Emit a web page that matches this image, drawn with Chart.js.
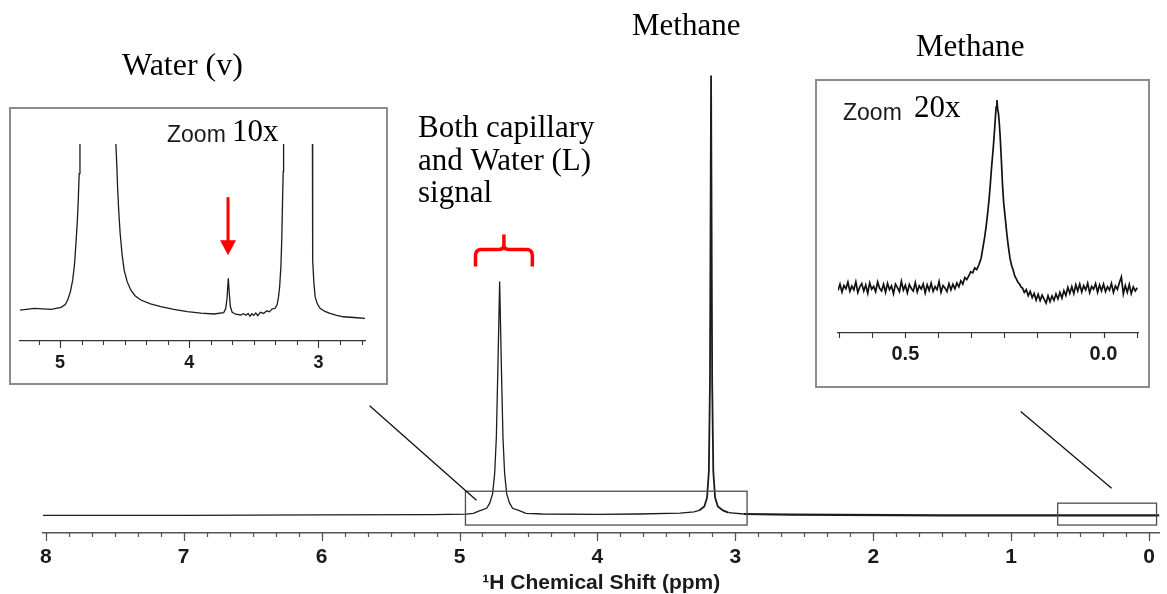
<!DOCTYPE html>
<html>
<head>
<meta charset="utf-8">
<title>1H NMR spectrum</title>
<script src="https://cdn.jsdelivr.net/npm/chart.js@4.4.1/dist/chart.umd.min.js"></script>
<style>
  html, body { margin: 0; padding: 0; background: #fff; }
  #wrap { position: relative; width: 1167px; height: 594px; overflow: hidden; }
  #mainChart { position: absolute; left: 0; top: 0; }
  .inset { position: absolute; border: 2px solid #8c8c8c; background: #fff; box-sizing: border-box; }
  .inset canvas { position: absolute; left: 0; top: 0; }
</style>
</head>
<body>
<div id="wrap">
  <canvas id="mainChart" width="1167" height="594"></canvas>
  <div class="inset" style="left:9px; top:107px; width:379px; height:278px;">
    <canvas id="zoom10Chart" width="375" height="274"></canvas>
  </div>
  <div class="inset" style="left:815px; top:79px; width:335px; height:309px;">
    <canvas id="zoom20Chart" width="331" height="305"></canvas>
  </div>
</div>
<script>
// ---- data: [ppm, intensity] ----
// full spectrum (methane peak = 100)
const mainTrace = [
  [8.02, 0], [7.0, 0], [6.0, 0.1], [5.2, 0.15], [4.95, 0.25], [4.90, 0.45], [4.856, 1.0],
  [4.803, 1.6], [4.78, 2.8], [4.760, 4.9], [4.745, 9.5], [4.733, 17.6], [4.722, 33],
  [4.709, 52.9], [4.696, 33], [4.685, 17.6], [4.673, 9.5], [4.658, 4.9], [4.638, 2.8],
  [4.615, 1.6], [4.562, 1.0], [4.518, 0.45], [4.40, 0.3], [4.0, 0.2], [3.7, 0.3],
  [3.40, 0.5], [3.30, 0.8], [3.262, 1.1], [3.225, 2.0], [3.205, 4], [3.192, 10],
  [3.184, 30], [3.176, 99.5], [3.168, 30], [3.160, 10], [3.147, 4], [3.127, 2.0],
  [3.09, 1.1], [3.05, 0.6], [2.94, 0.3], [2.6, 0.15], [1.5, 0], [0.5, 0], [-0.075, 0]
];

// 10x vertical zoom, 5.3 - 2.6 ppm (clipped at 100)
const zoom10Trace = [
  [5.31, 15.7], [5.198, 16.6], [5.069, 16.1], [4.992, 17.1], [4.96, 18.5], [4.941, 20.8],
  [4.92, 25], [4.902, 31], [4.888, 39], [4.877, 49.7], [4.867, 60], [4.859, 71.6],
  [4.852, 85], [4.846, 100], [4.78, 300], [4.71, 600], [4.64, 300], [4.568, 100],
  [4.560, 88], [4.555, 78.3], [4.545, 65], [4.535, 54.7], [4.52, 44], [4.504, 36],
  [4.48, 30], [4.453, 25.9], [4.42, 23], [4.375, 20.8], [4.30, 18.8], [4.221, 17.4],
  [4.12, 16], [4.015, 14.9], [3.91, 14.1], [3.810, 13.7], [3.733, 14.4], [3.718, 16.5],
  [3.708, 21.5], [3.698, 31.8], [3.690, 24], [3.682, 17.5], [3.668, 14.6], [3.64, 13.6],
  [3.604, 13.2], [3.58, 13.9], [3.56, 13.1], [3.545, 14.0], [3.53, 12.6], [3.515, 13.8],
  [3.502, 13.0], [3.485, 14.2], [3.47, 12.9], [3.45, 14.6], [3.425, 14.0], [3.40, 15.3],
  [3.38, 14.8], [3.36, 16.2], [3.335, 16.6], [3.32, 18.5], [3.309, 22.5], [3.30, 28],
  [3.291, 37.7], [3.284, 52], [3.278, 71.6], [3.273, 86], [3.270, 100], [3.22, 400],
  [3.17, 900], [3.10, 400], [3.047, 100], [3.045, 41], [3.036, 30], [3.026, 22.5],
  [3.01, 19], [2.988, 16.6], [2.95, 15], [2.911, 14], [2.86, 13], [2.808, 12.3],
  [2.70, 11.8], [2.64, 11.5]
];

// 20x vertical zoom, 0.67 - -0.09 ppm (noisy methane-region trace)
const zoom20Trace = [
  [0.670, 18.2], [0.665, 21.0], [0.660, 17.6], [0.655, 20.4], [0.650, 19.0], [0.645, 21.8],
  [0.640, 17.9], [0.635, 20.1], [0.630, 18.5], [0.625, 22.0], [0.620, 17.4], [0.615, 19.8],
  [0.610, 21.2], [0.605, 18.0], [0.600, 20.6], [0.595, 17.1], [0.590, 21.5], [0.585, 18.8],
  [0.580, 20.0], [0.575, 17.7], [0.570, 21.9], [0.565, 19.2], [0.560, 18.1], [0.555, 20.9],
  [0.550, 17.5], [0.545, 21.3], [0.540, 18.6], [0.535, 20.2], [0.530, 16.9], [0.525, 21.0],
  [0.520, 19.5], [0.515, 17.8], [0.510, 22.2], [0.505, 18.4], [0.500, 20.5], [0.495, 17.3],
  [0.490, 20.8], [0.485, 19.1], [0.480, 18.0], [0.475, 21.6], [0.470, 17.6], [0.465, 20.3],
  [0.460, 18.9], [0.455, 21.1], [0.450, 17.2], [0.445, 20.7], [0.440, 18.3], [0.435, 21.4],
  [0.430, 17.9], [0.425, 19.9], [0.420, 18.6], [0.415, 22.1], [0.410, 17.5], [0.405, 20.4],
  [0.400, 19.3], [0.395, 17.8], [0.390, 21.2], [0.385, 18.5], [0.380, 20.9], [0.375, 19.0],
  [0.370, 21.5], [0.365, 19.8], [0.360, 22.4], [0.355, 21.0], [0.350, 23.8], [0.345, 22.9],
  [0.340, 24.5], [0.335, 26.3], [0.330, 25.8], [0.325, 27.9], [0.320, 27.2], [0.314, 29.5],
  [0.309, 32], [0.305, 36], [0.300, 41], [0.296, 46], [0.292, 52], [0.289, 57], [0.286, 63],
  [0.283, 70], [0.280, 76], [0.278, 80], [0.275, 87], [0.273, 92], [0.271, 97], [0.269, 100],
  [0.267, 96], [0.265, 94], [0.263, 90], [0.261, 85], [0.258, 75], [0.255, 64], [0.252, 56],
  [0.249, 51], [0.246, 46], [0.243, 41], [0.240, 37], [0.236, 32], [0.232, 29], [0.228, 27],
  [0.224, 24.5], [0.220, 23.2], [0.216, 21.8], [0.212, 21.0], [0.208, 19.8], [0.204, 19.2],
  [0.200, 17.4], [0.195, 18.6], [0.190, 16.0], [0.185, 17.9], [0.180, 15.2], [0.175, 17.0],
  [0.170, 14.1], [0.165, 16.6], [0.160, 13.9], [0.155, 16.2], [0.150, 14.5], [0.145, 12.8],
  [0.140, 16.0], [0.135, 13.5], [0.130, 15.9], [0.125, 14.0], [0.120, 16.8], [0.115, 14.6],
  [0.110, 17.5], [0.105, 15.0], [0.100, 18.2], [0.095, 16.1], [0.090, 19.6], [0.085, 17.0],
  [0.080, 19.9], [0.075, 16.9], [0.070, 20.7], [0.065, 18.0], [0.060, 21.0], [0.055, 17.6],
  [0.050, 20.3], [0.045, 18.5], [0.040, 21.4], [0.035, 17.3], [0.030, 20.0], [0.025, 18.8],
  [0.020, 21.2], [0.015, 17.5], [0.010, 20.6], [0.005, 18.1], [0.000, 21.0], [-0.005, 17.8],
  [-0.010, 19.9], [-0.015, 18.4], [-0.020, 21.3], [-0.025, 17.4], [-0.030, 20.2], [-0.035, 18.7],
  [-0.040, 21.6], [-0.045, 24.0], [-0.050, 16.8], [-0.055, 20.4], [-0.060, 17.5], [-0.065, 20.8],
  [-0.070, 16.9], [-0.075, 19.8], [-0.080, 18.0], [-0.085, 19.4]
];

// tick labels
const mainMajorTicks = [8, 7, 6, 5, 4, 3, 2, 1, 0];
const zoom10MajorTicks = [5, 4, 3];
const zoom20MajorTicks = [0.5, 0.0];

// zoomed regions marked on the full spectrum: [ppm from, ppm to, top, bottom]
const zoomRegions = [[4.957, 2.915, 5.45, -2.2], [0.663, -0.054, 2.75, -2.2]];

const SERIF = "'Liberation Serif', 'Times New Roman', serif";
const SANS = "'Liberation Sans', Arial, sans-serif";

function minorSteps(from, to, step) {
  const out = [];
  for (let v = from; v <= to + 1e-9; v += step) out.push(v);
  return out;
}

function toPoints(trace) {
  return trace.map(p => ({ x: p[0], y: p[1] }));
}

// tick marks drawn below the axis line (major long, minor short)
const tickMarks = {
  id: 'tickMarks',
  afterDraw(chart, args, opts) {
    const xs = chart.scales.x;
    const ctx = chart.ctx;
    const y0 = chart.chartArea.bottom;
    const lo = Math.min(xs.min, xs.max) - 0.02, hi = Math.max(xs.min, xs.max) + 0.02;
    ctx.save();
    ctx.strokeStyle = opts.color;
    ctx.lineWidth = opts.width;
    const draw = (vals, len) => vals.forEach(v => {
      if (v < lo || v > hi) return;
      const px = Math.round(xs.getPixelForValue(v)) + 0.5;
      ctx.beginPath();
      ctx.moveTo(px, y0);
      ctx.lineTo(px, y0 + len);
      ctx.stroke();
    });
    draw(opts.minor, opts.minorLen);
    draw(opts.major, opts.majorLen);
    ctx.restore();
  }
};

// boxes, connectors, bracket and labels on the full spectrum
const mainExtras = {
  id: 'mainExtras',
  afterDraw(chart) {
    const { ctx } = chart;
    const xs = chart.scales.x, ys = chart.scales.y;
    const px = v => xs.getPixelForValue(v), py = v => ys.getPixelForValue(v);
    ctx.save();

    ctx.strokeStyle = '#4d4d4d';
    ctx.lineWidth = 1.3;
    zoomRegions.forEach(r => {
      ctx.strokeRect(px(r[0]), py(r[2]), px(r[1]) - px(r[0]), py(r[3]) - py(r[2]));
    });

    // connector lines toward the insets
    ctx.strokeStyle = '#111';
    ctx.lineWidth = 1.3;
    [[5.652, 24.8, 4.877, 3.4], [0.931, 23.5, 0.272, 6.1]].forEach(l => {
      ctx.beginPath();
      ctx.moveTo(px(l[0]), py(l[1]));
      ctx.lineTo(px(l[2]), py(l[3]));
      ctx.stroke();
    });

    // red curly bracket above the water peak
    const bl = px(4.884), br = px(4.472), bc = (bl + br) / 2;
    const yBar = py(60.1), yEnd = py(56.3), yTip = py(63.5);
    ctx.strokeStyle = '#ff0000';
    ctx.lineWidth = 3.5;
    ctx.lineJoin = 'round';
    ctx.beginPath();
    ctx.moveTo(bl, yEnd);
    ctx.lineTo(bl, yBar + 6);
    ctx.quadraticCurveTo(bl, yBar, bl + 6, yBar);
    ctx.lineTo(bc - 5, yBar);
    ctx.quadraticCurveTo(bc, yBar, bc, yBar - 5);
    ctx.lineTo(bc, yTip);
    ctx.moveTo(bc, yBar - 5);
    ctx.quadraticCurveTo(bc, yBar, bc + 5, yBar);
    ctx.lineTo(br - 6, yBar);
    ctx.quadraticCurveTo(br, yBar, br, yBar + 6);
    ctx.lineTo(br, yEnd);
    ctx.stroke();

    // labels
    ctx.fillStyle = '#000';
    ctx.textBaseline = 'alphabetic';
    ctx.textAlign = 'left';
    ctx.font = '32px ' + SERIF;
    ctx.fillText('Water (v)', 122, 75);
    ctx.font = '31px ' + SERIF;
    ctx.fillText('Methane', 632, 35);
    ctx.fillText('Methane', 916, 56);
    ctx.fillText('Both capillary', 418, 137);
    ctx.fillText('and Water (L)', 418, 170);
    ctx.fillText('signal', 418, 202);
    // the original label is cut just under its baseline
    ctx.fillStyle = '#fff';
    ctx.fillRect(414, 210, 110, 16);
    ctx.restore();
  }
};

// "Zoom Nx" caption and red arrow inside an inset
const insetExtras = {
  id: 'insetExtras',
  afterDraw(chart, args, opts) {
    const { ctx } = chart;
    ctx.save();
    ctx.textBaseline = 'alphabetic';
    ctx.fillStyle = '#1a1a1a';
    ctx.font = '23px ' + SANS;
    ctx.fillText('Zoom', opts.zoomX, opts.zoomY);
    ctx.fillStyle = '#000';
    ctx.font = '31px ' + SERIF;
    ctx.fillText(opts.factor, opts.factorX, opts.factorY);
    if (opts.arrow) {
      const xs = chart.scales.x, ys = chart.scales.y;
      const ax = xs.getPixelForValue(opts.arrow[0]);
      const yTop = ys.getPixelForValue(opts.arrow[1]);
      const yTip = ys.getPixelForValue(opts.arrow[2]);
      ctx.strokeStyle = '#ff0000';
      ctx.fillStyle = '#ff0000';
      ctx.lineWidth = 3;
      ctx.beginPath();
      ctx.moveTo(ax, yTop);
      ctx.lineTo(ax, yTip - 14);
      ctx.stroke();
      ctx.beginPath();
      ctx.moveTo(ax - 8, yTip - 15);
      ctx.lineTo(ax + 8, yTip - 15);
      ctx.lineTo(ax, yTip);
      ctx.closePath();
      ctx.fill();
    }
    ctx.restore();
  }
};

// full spectrum
new Chart(document.getElementById('mainChart'), {
  type: 'line',
  data: {
    datasets: [{
      data: toPoints(mainTrace),
      borderColor: '#1c1c1c',
      borderWidth: 1.3,
      pointRadius: 0,
      tension: 0,
      segment: {
        borderWidth: ctx => {
          const p = ctx.p0.parsed.x;
          if (p < 2.95) return 2.2;
          if (p < 3.3 && p > 3.05) return 1.8;
          return 1.3;
        }
      }
    }]
  },
  options: {
    responsive: false,
    animation: false,
    layout: { padding: { left: 43, right: 6, top: 71, bottom: 0 } },
    plugins: {
      legend: { display: false },
      tooltip: { enabled: false },
      tickMarks: {
        major: mainMajorTicks,
        minor: minorSteps(0, 8, 1 / 6),
        majorLen: 8, minorLen: 4, color: '#555', width: 1.2
      }
    },
    scales: {
      x: {
        type: 'linear',
        reverse: true,
        min: -0.075,
        max: 8.02,
        afterBuildTicks: s => { s.ticks = mainMajorTicks.map(v => ({ value: v })); },
        afterFit: s => { s.height = 61; },
        grid: { display: false, drawTicks: false },
        border: { display: true, color: '#555', width: 1.5 },
        ticks: {
          color: '#1a1a1a',
          padding: 12,
          maxRotation: 0,
          autoSkip: false,
          font: { family: SANS, size: 21, weight: 'bold' },
          callback: v => String(v)
        },
        title: {
          display: true,
          text: '¹H Chemical Shift (ppm)',
          color: '#1a1a1a',
          font: { family: SANS, size: 21, weight: 'bold', lineHeight: 1 },
          padding: { top: 0, bottom: 0 }
        }
      },
      y: { display: false, min: -4, max: 100.5 }
    }
  },
  plugins: [tickMarks, mainExtras]
});

// inset: 10x
new Chart(document.getElementById('zoom10Chart'), {
  type: 'line',
  data: {
    datasets: [{
      data: toPoints(zoom10Trace),
      borderColor: '#1c1c1c',
      borderWidth: 1.3,
      pointRadius: 0,
      tension: 0,
      clip: 0
    }]
  },
  options: {
    responsive: false,
    animation: false,
    layout: { padding: { left: 9, right: 21, top: 35, bottom: 0 } },
    plugins: {
      legend: { display: false },
      tooltip: { enabled: false },
      tickMarks: {
        major: zoom10MajorTicks,
        minor: minorSteps(2.5, 5.5, 1 / 6),
        majorLen: 7, minorLen: 4, color: '#333', width: 1.1
      },
      insetExtras: {
        zoomX: 156, zoomY: 33, factor: '10x', factorX: 221, factorY: 32,
        arrow: [3.70, 73, 43.5]
      }
    },
    scales: {
      x: {
        type: 'linear',
        reverse: true,
        min: 2.64,
        max: 5.31,
        afterBuildTicks: s => { s.ticks = zoom10MajorTicks.map(v => ({ value: v })); },
        afterFit: s => { s.height = 42; },
        grid: { display: false, drawTicks: false },
        border: { display: true, color: '#333', width: 1.2 },
        ticks: {
          color: '#1a1a1a',
          padding: 11,
          maxRotation: 0,
          autoSkip: false,
          font: { family: SANS, size: 18, weight: 'bold' },
          callback: v => String(v)
        }
      },
      y: { display: false, min: 0, max: 100 }
    }
  },
  plugins: [tickMarks, insetExtras]
});

// inset: 20x
new Chart(document.getElementById('zoom20Chart'), {
  type: 'line',
  data: {
    datasets: [{
      data: toPoints(zoom20Trace),
      borderColor: '#111',
      borderWidth: 1.7,
      pointRadius: 0,
      tension: 0,
      clip: 0
    }]
  },
  options: {
    responsive: false,
    animation: false,
    layout: { padding: { left: 21, right: 10, top: 12, bottom: 0 } },
    plugins: {
      legend: { display: false },
      tooltip: { enabled: false },
      tickMarks: {
        major: zoom20MajorTicks,
        minor: minorSteps(-1 / 12, 8 / 12, 1 / 12),
        majorLen: 5, minorLen: 5, color: '#333', width: 1.1
      },
      insetExtras: {
        zoomX: 26, zoomY: 39, factor: '20x', factorX: 97, factorY: 36
      }
    },
    scales: {
      x: {
        type: 'linear',
        reverse: true,
        min: -0.087,
        max: 0.67,
        afterBuildTicks: s => { s.ticks = zoom20MajorTicks.map(v => ({ value: v })); },
        afterFit: s => { s.height = 53; },
        grid: { display: false, drawTicks: false },
        border: { display: true, color: '#333', width: 1.2 },
        ticks: {
          color: '#1a1a1a',
          padding: 9,
          maxRotation: 0,
          autoSkip: false,
          font: { family: SANS, size: 20, weight: 'bold' },
          callback: v => v.toFixed(1)
        }
      },
      y: { display: false, min: 0, max: 103 }
    }
  },
  plugins: [tickMarks, insetExtras]
});
</script>
</body>
</html>
